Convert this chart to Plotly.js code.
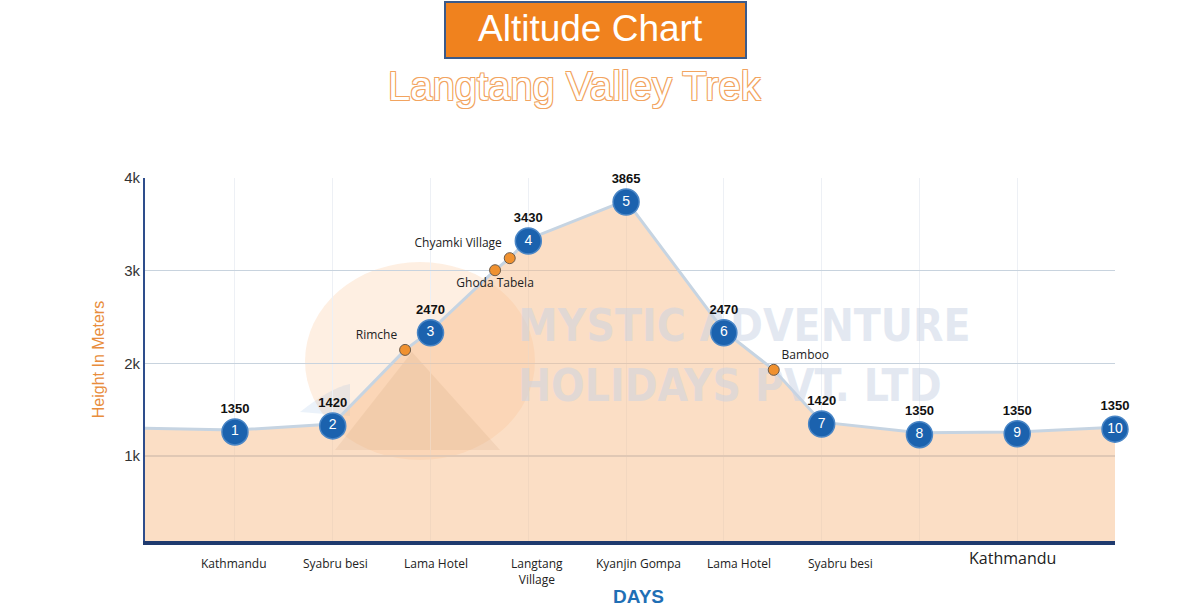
<!DOCTYPE html>
<html>
<head>
<meta charset="utf-8">
<script src="https://cdn.plot.ly/plotly-3.0.1.min.js"></script>
<style>
  html, body { margin: 0; padding: 0; background: #fff; }
  #chart { width: 1200px; height: 612px; }
</style>
</head>
<body>
<div id="chart"></div>
<script>
// trek days and the altitude written above each day
const days = [1, 2, 3, 4, 5, 6, 7, 8, 9, 10];
const altitude = [1350, 1420, 2470, 3430, 3865, 2470, 1420, 1350, 1350, 1350];
const profile = [1260, 1325, 2330, 3320, 3740, 2330, 1345, 1230, 1240, 1290];

// intermediate stops (orange dots)
const stopNames = ['Rimche', 'Ghoda Tabela', 'Chyamki Village', 'Bamboo'];
const stopDay = [2.74, 3.66, 3.81, 6.51];
const stopHeight = [2145, 3005, 3135, 1930];

// place names under the axis
const placeNames = ['Kathmandu', 'Syabru besi', 'Lama Hotel', 'Langtang<br>Village',
                    'Kyanjin Gompa', 'Lama Hotel', 'Syabru besi'];
const lastPlace = 'Kathmandu';

const yTicks = [1000, 2000, 3000, 4000];
const yTickText = ['1k', '2k', '3k', '4k'];

const watermark = ['MYSTIC ADVENTURE', 'HOLIDAYS PVT. LTD'];

// profile line: start at the left edge, then every day and stop in order
let trail = [{x: 0, y: 1300}];
days.forEach((d, i) => trail.push({x: d, y: profile[i] + 20}));
stopDay.forEach((d, i) => trail.push({x: d, y: stopHeight[i]}));
trail.sort((a, b) => a.x - b.x);

// plot box in pixels, used for the decorations outside the axes
const L = 145, R = 1115, T = 178, B = 541;
function px(x) { return (x - L) / (R - L); }
function py(y) { return (B - y) / (B - T); }

var area = {
    x: trail.map(p => p.x),
    y: trail.map(p => p.y),
    mode: 'lines',
    fill: 'tozeroy',
    fillcolor: 'rgba(247,190,140,0.5)',
    line: {color: '#c6d4e2', width: 3},
    hoverinfo: 'skip'
};

// faint company name behind the marks
var mark = {
    x: [6.21, 6.06],
    y: [2360, 1710],
    mode: 'text',
    text: watermark,
    textposition: 'middle center',
    textfont: {family: 'DejaVu Sans Condensed, Arial', size: 44, color: 'rgba(200,210,228,0.5)', weight: 'bold'},
    cliponaxis: false
};

var stops = {
    x: stopDay,
    y: stopHeight,
    mode: 'markers+text',
    text: stopNames,
    textposition: ['top left', 'bottom center', 'top left', 'top right'],
    textfont: {family: 'Open Sans, Arial', size: 12, color: '#222'},
    marker: {size: 11, color: '#f0912f', line: {color: '#6b5a4a', width: 1}},
    cliponaxis: false
};

var heights = {
    x: days,
    y: profile,
    mode: 'markers+text',
    text: altitude.map(String),
    textposition: 'top center',
    textfont: {family: 'Arial', size: 13, color: '#111', weight: 'bold'},
    marker: {size: 24, opacity: 0},
    cliponaxis: false
};

var markers = {
    x: days,
    y: profile,
    mode: 'markers+text',
    text: days.map(String),
    textposition: 'middle center',
    textfont: {family: 'Arial', size: 14, color: '#fff'},
    marker: {size: 26, color: '#1b62ae', line: {color: '#4a86c6', width: 1.5}},
    cliponaxis: false
};

function note(x, y, text, font, xref) {
    return {x: x, y: y, xref: xref || 'paper', yref: 'paper', text: text,
            showarrow: false, xanchor: 'center', yanchor: 'middle', font: font};
}

let notes = placeNames.map((name, i) => {
    let n = note(days[i] * 1.033 - 0.04, py(553), name,
                 {family: 'Open Sans, Arial', size: 12, color: '#222'}, 'x');
    n.yanchor = 'top';
    return n;
});

notes.push(note(8.95, py(558), lastPlace,
                {family: 'Open Sans, Arial', size: 16, color: '#222'}, 'x'));

notes.push(note(px(638), py(596), 'DAYS',
                {family: 'Arial', size: 19, color: '#1f6fb5', weight: 'bold'}));

// heading box and subtitle
notes.push(note(px(590), py(28), 'Altitude Chart',
                {family: 'Liberation Sans, Arial', size: 37, color: '#fff'}));
notes.push(note(px(575), py(86), 'Langtang Valley Trek',
                {family: 'Liberation Sans, Arial', size: 40, color: '#fff',
                 shadow: '1px 1px 0 #f2a460, -1px -1px 0 #f2a460, 1px -1px 0 #f2a460, -1px 1px 0 #f2a460'}));

var layout = {
    width: 1200,
    height: 612,
    margin: {l: L, r: 1200 - R, t: T, b: 612 - B},
    paper_bgcolor: '#fff',
    plot_bgcolor: '#fff',
    showlegend: false,
    xaxis: {
        range: [0.08, 10],
        showgrid: true,
        gridcolor: '#edf0f5',
        tickvals: days,
        showticklabels: false,
        zeroline: false,
        showline: true,
        linecolor: '#1f3a6e',
        linewidth: 4
    },
    yaxis: {
        range: [83, 4000],
        tickvals: yTicks,
        ticktext: yTickText,
        tickfont: {family: 'Arial', size: 15, color: '#333'},
        gridcolor: '#c8d3de',
        gridwidth: 1.5,
        zeroline: false,
        showline: true,
        linecolor: '#2e4d8c',
        linewidth: 2,
        ticks: '',
        title: {
            text: 'Height In Meters',
            standoff: 16,
            font: {family: 'Arial', size: 16, color: '#e88d3c'}
        }
    },
    shapes: [
        {type: 'rect', xref: 'paper', yref: 'paper', layer: 'below',
         x0: px(445), x1: px(746), y0: py(58), y1: py(2),
         fillcolor: '#f0821e', line: {color: '#3a5a8a', width: 2}},
        {type: 'circle', xref: 'paper', yref: 'paper', layer: 'below',
         x0: px(305), x1: px(535), y0: py(460), y1: py(262),
         fillcolor: 'rgba(250,175,110,0.2)', line: {width: 0}},
        {type: 'path', xref: 'paper', yref: 'paper', layer: 'below',
         path: 'M ' + px(335) + ' ' + py(450) + ' L ' + px(412) + ' ' + py(352) +
               ' L ' + px(500) + ' ' + py(450) + ' Z',
         fillcolor: 'rgba(150,110,90,0.16)', line: {width: 0}},
        {type: 'path', xref: 'paper', yref: 'paper', layer: 'below',
         path: 'M ' + px(300) + ' ' + py(412) + ' Q ' + px(330) + ' ' + py(388) +
               ' ' + px(350) + ' ' + py(384) + ' L ' + px(350) + ' ' + py(416) + ' Z',
         fillcolor: 'rgba(120,170,220,0.15)', line: {width: 0}}
    ],
    annotations: notes
};

Plotly.newPlot('chart', [area, mark, stops, heights, markers], layout, {displayModeBar: false, staticPlot: true});
</script>
</body>
</html>
